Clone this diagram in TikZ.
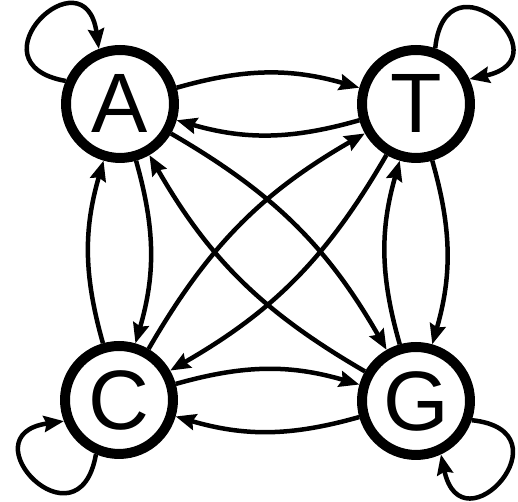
\documentclass[tikz,border=0pt]{standalone}
\usepackage{fontspec}
\setmainfont{Liberation Sans}
\usetikzlibrary{arrows.meta}

\begin{document}
\begin{tikzpicture}[x=0.02cm,y=0.02cm,
  base/.style={circle,draw,line width=0.2cm,minimum size=2.16cm,inner sep=0pt,
    font=\fontsize{48}{48}\selectfont},
  trans/.style={line width=0.09cm,-{Stealth[length=0.4cm,width=0.32cm,inset=0.05cm]}}]
\useasboundingbox (0,0) rectangle (518,502);

\node[base] (A) at (120,398) {A};
\node[base] (T) at (416,398) {T};
\node[base] (C) at (119,102) {C};
\node[base] (G) at (416,101) {G};

% sides
\draw[trans] (A) to[bend left=16] (T);
\draw[trans] (T) to[bend left=16] (A);
\draw[trans] (A) to[bend left=16] (C);
\draw[trans] (C) to[bend left=16] (A);
\draw[trans] (T) to[bend left=16] (G);
\draw[trans] (G) to[bend left=16] (T);
\draw[trans] (C) to[bend left=16] (G);
\draw[trans] (G) to[bend left=16] (C);

% diagonals
\draw[trans] (A) to[bend left=15] (G);
\draw[trans] (G) to[bend left=15] (A);
\draw[trans] (T) to[bend left=15] (C);
\draw[trans] (C) to[bend left=15] (T);

% self loops
\draw[trans] (A.157) .. controls +(170:100) and +(98:100) .. (A.111);
\draw[trans] (T.71) .. controls +(84:100) and +(12:100) .. (T.25);
\draw[trans] (C.247) .. controls +(260:100) and +(188:100) .. (C.201);
\draw[trans] (G.341) .. controls +(354:100) and +(282:100) .. (G.295);
\end{tikzpicture}
\end{document}
